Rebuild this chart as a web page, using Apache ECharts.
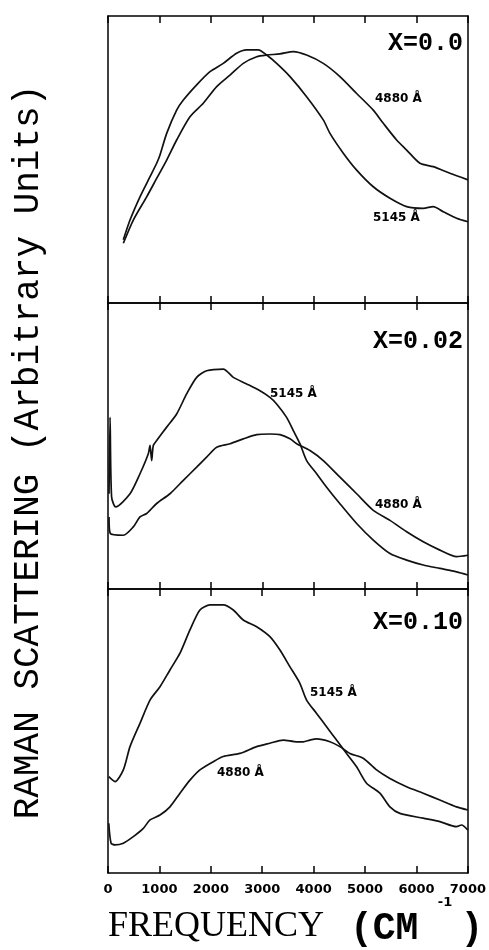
<!DOCTYPE html>
<html>
<head>
<meta charset="utf-8">
<title>Raman scattering</title>
<script src="https://cdn.jsdelivr.net/npm/echarts@6/dist/echarts.min.js"></script>
<style>
  html, body { margin: 0; padding: 0; background: #fff; }
  #chart { width: 489px; height: 950px; }
</style>
</head>
<body>
<div id="chart"></div>
<script>
// frequency (cm-1) vs. scattering intensity (arbitrary, 0-100 per panel)
var xTicks = [0, 1000, 2000, 3000, 4000, 5000, 6000, 7000];
var panelNames = ['X=0.0', 'X=0.02', 'X=0.10'];

// X = 0.0
var p0_5145 = [[298, 22.0], [428, 28.9], [622, 37.0], [817, 44.0], [946, 48.7], [1011, 51.6], [1141, 59.1],
  [1335, 67.2], [1465, 70.7], [1724, 76.0], [1983, 80.6], [2242, 83.5], [2501, 87.0], [2696, 88.2],
  [2923, 88.2], [3085, 86.4], [3279, 83.5], [3539, 78.9], [3862, 71.9], [4186, 63.8], [4316, 59.1],
  [4575, 52.2], [4835, 46.3], [5158, 40.5], [5483, 36.5], [5807, 33.6], [6130, 33.0], [6325, 33.6],
  [6519, 31.8], [6778, 29.5], [7000, 28.3]];
var p0_4880 = [[298, 20.8], [492, 28.9], [752, 37.0], [946, 43.4], [1141, 49.8], [1335, 56.8], [1594, 64.9],
  [1853, 69.6], [2113, 75.4], [2372, 79.4], [2631, 83.5], [2891, 85.8], [3085, 86.4], [3344, 86.8],
  [3603, 87.6], [3862, 86.4], [4186, 83.5], [4510, 78.9], [4835, 73.0], [5158, 67.2], [5353, 62.6],
  [5612, 56.8], [5807, 53.3], [6065, 48.7], [6325, 47.5], [6648, 45.2], [7000, 42.9]];

// X = 0.02
var p1_5145 = [[20, 33.3], [40, 60.0], [70, 32.2], [150, 28.7], [428, 33.3], [622, 40.3], [784, 47.3],
  [817, 50.2], [849, 44.9], [881, 50.2], [946, 51.9], [1141, 56.6], [1335, 61.2], [1529, 68.2],
  [1724, 74.0], [1918, 76.3], [2242, 76.9], [2437, 74.0], [2696, 71.7], [2955, 69.3], [3149, 67.0],
  [3279, 64.7], [3473, 60.0], [3603, 55.4], [3732, 50.8], [3862, 44.9], [4057, 40.3], [4251, 35.6],
  [4510, 29.8], [4835, 22.9], [5158, 17.1], [5483, 12.4], [5807, 10.1], [6130, 8.4], [6454, 7.2],
  [6778, 6.0], [7000, 4.9]];
var p1_4880 = [[20, 25.2], [45, 19.4], [298, 18.8], [492, 21.7], [622, 25.2], [752, 26.4], [946, 29.9],
  [1205, 33.3], [1465, 38.0], [1724, 42.6], [1918, 46.1], [2113, 49.6], [2372, 50.8], [2631, 52.5],
  [2891, 54.0], [3149, 54.2], [3344, 54.0], [3539, 52.5], [3668, 50.8], [3927, 48.4], [4186, 44.9],
  [4510, 39.1], [4835, 33.3], [5158, 27.5], [5483, 24.0], [5807, 20.0], [6130, 16.5], [6454, 13.6],
  [6778, 11.3], [7000, 11.8]];

// X = 0.10
var p2_5145 = [[15, 33.9], [136, 32.2], [298, 36.3], [428, 44.5], [622, 52.7], [817, 60.9], [1011, 65.6],
  [1205, 71.5], [1400, 77.4], [1594, 85.6], [1788, 92.6], [1983, 94.4], [2242, 94.4], [2437, 92.6],
  [2631, 89.1], [2891, 86.7], [3149, 83.2], [3344, 78.5], [3539, 72.6], [3732, 66.8], [3862, 60.9],
  [4057, 56.2], [4251, 51.5], [4445, 46.8], [4640, 42.1], [4835, 37.4], [5029, 31.6], [5288, 28.1],
  [5483, 23.3], [5677, 21.0], [6130, 19.3], [6454, 18.1], [6778, 16.3], [6875, 16.9], [7000, 15.1]];
var p2_4880 = [[15, 17.5], [60, 10.5], [136, 9.9], [298, 10.5], [492, 12.8], [687, 15.7], [817, 18.7],
  [1011, 20.4], [1205, 23.3], [1400, 28.1], [1594, 32.7], [1788, 36.3], [2048, 39.2], [2242, 41.0],
  [2566, 42.1], [2891, 44.5], [3149, 45.7], [3408, 46.8], [3668, 46.2], [3797, 46.2], [3927, 46.8],
  [4057, 47.2], [4316, 46.2], [4510, 44.5], [4705, 42.1], [4964, 40.4], [5223, 36.3], [5483, 33.3],
  [5807, 30.4], [6130, 28.1], [6454, 25.7], [6778, 23.3], [7000, 22.2]];

var panels = [
  { a: p0_5145, b: p0_4880 },
  { a: p1_5145, b: p1_4880 },
  { a: p2_5145, b: p2_4880 }
];

var chart = echarts.init(document.getElementById('chart'));

var grids = [
  { left: 108, width: 360, top: 16, height: 287 },
  { left: 108, width: 360, top: 303, height: 286 },
  { left: 108, width: 360, top: 589, height: 284 }
];

var xAxes = [], yAxes = [], series = [];
grids.forEach(function (g, i) {
  ['bottom', 'top'].forEach(function (pos) {
    xAxes.push({
      type: 'value', gridIndex: i, position: pos,
      min: xTicks[0], max: xTicks[xTicks.length - 1], interval: 1000,
      axisLine: { show: true, onZero: false, lineStyle: { color: '#000', width: 1.5 } },
      axisTick: { show: true, inside: true, length: 7, lineStyle: { color: '#000', width: 1.5 } },
      splitLine: { show: false },
      axisLabel: {
        show: pos === 'bottom' && i === 2,
        margin: 10, color: '#000',
        fontFamily: 'DejaVu Sans', fontWeight: 'bold', fontSize: 13,
        formatter: function (v) { return String(v); }
      }
    });
  });
  ['left', 'right'].forEach(function (pos) {
    yAxes.push({
      type: 'value', gridIndex: i, position: pos, min: 0, max: 100,
      axisLine: { show: true, onZero: false, lineStyle: { color: '#000', width: 1.5 } },
      axisTick: { show: false }, axisLabel: { show: false }, splitLine: { show: false }
    });
  });
  [panels[i].a, panels[i].b].forEach(function (d) {
    series.push({
      type: 'line', xAxisIndex: i * 2, yAxisIndex: i * 2,
      data: d, showSymbol: false, smooth: 0.25,
      lineStyle: { color: '#111', width: 1.7 },
      animation: false
    });
  });
});

var lblFont = 'bold 12px "DejaVu Sans"';
var bigFont = 'bold 25px "Liberation Mono"';

chart.setOption({
  backgroundColor: '#fff',
  animation: false,
  grid: grids,
  xAxis: xAxes,
  yAxis: yAxes,
  series: series,
  graphic: [
    { type: 'text', x: 463, y: 44, style: { text: panelNames[0], font: bigFont, fill: '#000', textAlign: 'right', textVerticalAlign: 'middle' } },
    { type: 'text', x: 463, y: 342, style: { text: panelNames[1], font: bigFont, fill: '#000', textAlign: 'right', textVerticalAlign: 'middle' } },
    { type: 'text', x: 463, y: 623, style: { text: panelNames[2], font: bigFont, fill: '#000', textAlign: 'right', textVerticalAlign: 'middle' } },

    { type: 'text', x: 375, y: 99, style: { text: '4880 Å', font: lblFont, fill: '#000', textVerticalAlign: 'middle' } },
    { type: 'text', x: 373, y: 218, style: { text: '5145 Å', font: lblFont, fill: '#000', textVerticalAlign: 'middle' } },
    { type: 'text', x: 270, y: 394, style: { text: '5145 Å', font: lblFont, fill: '#000', textVerticalAlign: 'middle' } },
    { type: 'text', x: 375, y: 505, style: { text: '4880 Å', font: lblFont, fill: '#000', textVerticalAlign: 'middle' } },
    { type: 'text', x: 310, y: 693, style: { text: '5145 Å', font: lblFont, fill: '#000', textVerticalAlign: 'middle' } },
    { type: 'text', x: 217, y: 773, style: { text: '4880 Å', font: lblFont, fill: '#000', textVerticalAlign: 'middle' } },

    { type: 'text', x: 28, y: 452, rotation: Math.PI / 2,
      style: { text: 'RAMAN SCATTERING (Arbitrary Units)', font: '36px "Liberation Mono"', fill: '#000', textAlign: 'center', textVerticalAlign: 'middle' } },

    { type: 'text', x: 108, y: 927, style: { text: 'FREQUENCY', font: '36px "Liberation Serif"', fill: '#000', textVerticalAlign: 'middle' } },
    { type: 'text', x: 350, y: 929, style: { text: '(CM', font: 'bold 38px "Liberation Mono"', fill: '#000', textVerticalAlign: 'middle' } },
    { type: 'text', x: 445, y: 903, style: { text: '-1', font: 'bold 13px "DejaVu Sans"', fill: '#000', textAlign: 'center', textVerticalAlign: 'middle' } },
    { type: 'text', x: 472, y: 929, style: { text: ')', font: 'bold 38px "Liberation Mono"', fill: '#000', textAlign: 'center', textVerticalAlign: 'middle' } }
  ]
});
</script>
</body>
</html>
